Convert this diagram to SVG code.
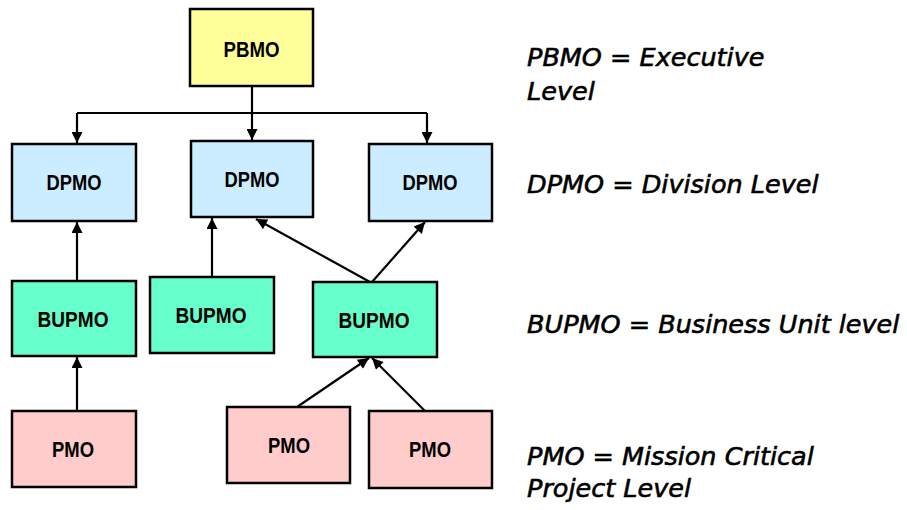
<svg xmlns="http://www.w3.org/2000/svg" width="907" height="510" viewBox="0 0 907 510">
<defs>
<style>
.box{stroke:#000;stroke-width:2.5}
.lbl{font-family:"Liberation Sans",Arial,sans-serif;font-weight:bold;font-size:22px;text-anchor:middle;fill:#000}
.leg{font-family:"DejaVu Sans",Verdana,sans-serif;font-style:italic;font-size:25.5px;fill:#000;stroke:#000;stroke-width:0.6}
.ln{stroke:#000;stroke-width:2.2;fill:none;marker-end:url(#ah)}
.pb{fill:#FFFF99}.dp{fill:#CCECFF}.bu{fill:#66FFCC}.pm{fill:#FFCCCC}
</style>
<marker id="ah" viewBox="0 0 10 10" refX="10" refY="5" markerWidth="6" markerHeight="5" markerUnits="strokeWidth" orient="auto">
<path d="M0,0 L10,5 L0,10 z" fill="#000"/>
</marker>
</defs>
<rect width="907" height="510" fill="#fff"/>
<g id="connectors">
<line x1="252" y1="86" x2="252" y2="113" stroke="#000" stroke-width="2.2"/>
<line x1="77" y1="113" x2="427" y2="113" stroke="#000" stroke-width="2.2"/>
<line class="ln" x1="77" y1="113" x2="77" y2="143"/>
<line class="ln" x1="252" y1="113" x2="252" y2="140"/>
<line class="ln" x1="427" y1="113" x2="427" y2="143"/>
<line class="ln" x1="77" y1="281" x2="77" y2="222"/>
<line class="ln" x1="212" y1="277" x2="212" y2="218"/>
<line class="ln" x1="370" y1="282" x2="256" y2="219"/>
<line class="ln" x1="372" y1="282" x2="425" y2="222"/>
<line class="ln" x1="77" y1="411" x2="77" y2="357"/>
<line class="ln" x1="297" y1="407" x2="369" y2="358"/>
<line class="ln" x1="425" y1="411" x2="372" y2="358"/>
</g>
<g id="pbmo"><rect class="box pb" x="190" y="9" width="123" height="77"/><text class="lbl" x="251.5" y="57" textLength="56" lengthAdjust="spacingAndGlyphs">PBMO</text></g>
<g id="dpmo1"><rect class="box dp" x="12" y="144" width="124" height="77"/><text class="lbl" x="74" y="190" textLength="55" lengthAdjust="spacingAndGlyphs">DPMO</text></g>
<g id="dpmo2"><rect class="box dp" x="191" y="141" width="122" height="76"/><text class="lbl" x="252" y="187" textLength="55" lengthAdjust="spacingAndGlyphs">DPMO</text></g>
<g id="dpmo3"><rect class="box dp" x="369" y="144" width="123" height="77"/><text class="lbl" x="430" y="190" textLength="55" lengthAdjust="spacingAndGlyphs">DPMO</text></g>
<g id="bupmo1"><rect class="box bu" x="12" y="281" width="124" height="75"/><text class="lbl" x="73" y="327" textLength="71" lengthAdjust="spacingAndGlyphs">BUPMO</text></g>
<g id="bupmo2"><rect class="box bu" x="150" y="277" width="124" height="76"/><text class="lbl" x="211" y="323" textLength="71" lengthAdjust="spacingAndGlyphs">BUPMO</text></g>
<g id="bupmo3"><rect class="box bu" x="313" y="282" width="124" height="75"/><text class="lbl" x="374" y="328" textLength="71" lengthAdjust="spacingAndGlyphs">BUPMO</text></g>
<g id="pmo1"><rect class="box pm" x="12" y="411" width="124" height="76"/><text class="lbl" x="73" y="457" textLength="42" lengthAdjust="spacingAndGlyphs">PMO</text></g>
<g id="pmo2"><rect class="box pm" x="227" y="407" width="123" height="76"/><text class="lbl" x="289" y="453" textLength="42" lengthAdjust="spacingAndGlyphs">PMO</text></g>
<g id="pmo3"><rect class="box pm" x="369" y="411" width="123" height="77"/><text class="lbl" x="430" y="457" textLength="42" lengthAdjust="spacingAndGlyphs">PMO</text></g>
<g id="legend">
<text class="leg" x="527" y="66">PBMO = Executive</text>
<text class="leg" x="527" y="100">Level</text>
<text class="leg" x="527" y="193">DPMO = Division Level</text>
<text class="leg" x="527" y="333">BUPMO = Business Unit level</text>
<text class="leg" x="527" y="465">PMO = Mission Critical</text>
<text class="leg" x="527" y="497">Project Level</text>
</g>
</svg>
